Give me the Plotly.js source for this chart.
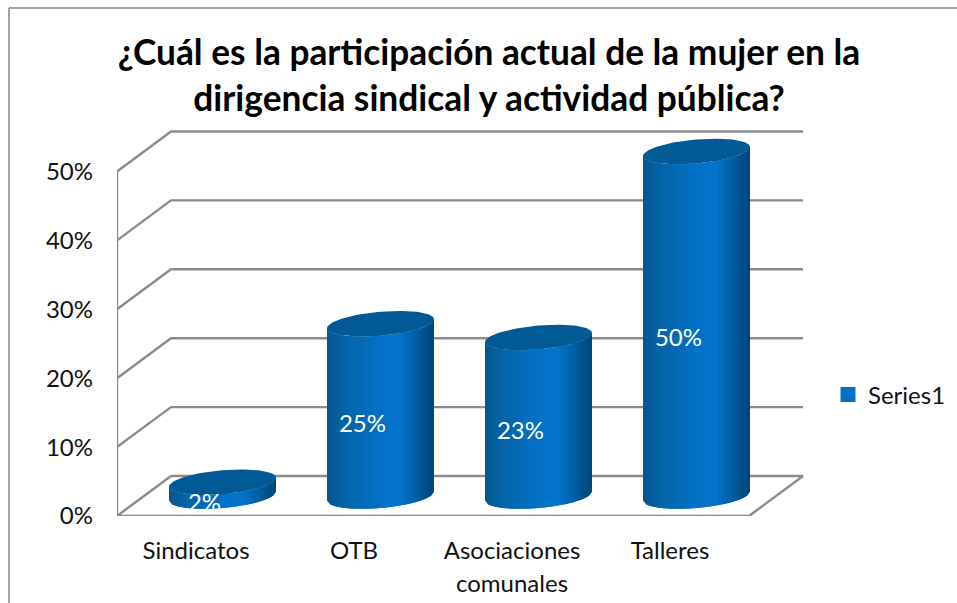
<!DOCTYPE html>
<html><head><meta charset="utf-8">
<script src="https://cdn.plot.ly/plotly-3.0.1.min.js"></script>
<style>html,body{margin:0;padding:0;background:#fff}#c{width:957px;height:603px}</style>
</head><body><div id="c"></div>
<script>
const categories = ['Sindicatos','OTB','Asociaciones','Talleres'];
const categoryExtraLine = [null,null,'comunales',null];
const values = [2,25,23,50];
const valueLabels = ['2%','25%','23%','50%'];
const seriesName = 'Series1';
const yTicks = [0,10,20,30,40,50];
const yTickLabels = ['0%','10%','20%','30%','40%','50%'];
const titleText = '¿Cuál es la participación actual de la mujer en la<br>dirigencia sindical y actividad pública?';

// drawing geometry
const W=957,H=603,L=117,R=803,T=130,B=516;
const pxX=158,pxY=6.89;
const dx=54/pxX,dy=40/pxY;
const xMin=-0.5,xMax=3.5+dx,yMax=(B-T)/pxY;
const xEnd=xMin+(W-L)/pxX;
const cylShift=26.5/pxX, cylBase=20/pxY;
const a=53.5/pxX, b=12/pxY, shear=4.5/pxY;
const grid='#8c8c8c', font='Lato, "Open Sans", sans-serif';

const traces=[];
// the series itself (hidden under the cylinders; gives the legend key)
traces.push({type:'scatter',mode:'markers',name:seriesName,x:categories.map((c,i)=>i+cylShift),y:values.map(v=>v/2+cylBase),
  marker:{color:'#0470c4',symbol:'square',size:15,line:{width:0}},showlegend:true,hoverinfo:'skip',cliponaxis:false});

function line(xs,ys,w){traces.push({type:'scatter',mode:'lines',x:xs,y:ys,line:{color:grid,width:w||2},showlegend:false,hoverinfo:'skip',cliponaxis:false});}
yTicks.forEach(v=>{
  if(v===0){
    line([xMin+dx,xMin,3.5,xMax,xMin+dx],[dy,0,0,dy,dy],2.4);
  } else {
    line([xMin,xMin+dx,xMax],[v,v+dy,v+dy],2.4);
  }
});
line([xMin,xMin],[0,yTicks[yTicks.length-1]],2.4);

function lerp(p,q,t){return p.map((c,i)=>Math.round(c+(q[i]-c)*t));}
const stops=[[0,[6,84,140]],[0.12,[4,98,162]],[0.5,[4,114,200]],[0.68,[4,116,204]],[0.85,[2,92,158]],[1,[0,68,116]]];
function shade(t){
  for(let i=1;i<stops.length;i++){ if(t<=stops[i][0]){
    const s=stops[i-1],e=stops[i];
    const c=lerp(s[1],e[1],(t-s[0])/(e[0]-s[0]));
    return 'rgb('+c.join(',')+')';}}
  return 'rgb('+stops[stops.length-1][1].join(',')+')';
}
const N=36;
values.forEach((v,i)=>{
  const cx=i+cylShift, top=v+cylBase;
  const low=u=>shear*u-b*Math.sqrt(Math.max(0,1-u*u));
  const upp=u=>shear*u+b*Math.sqrt(Math.max(0,1-u*u));
  for(let k=0;k<N;k++){
    const col=shade((k+.5)/N);
    const us=[k,k+1,k+2].map(j=>Math.min(1,-1+2*j/N));
    const xs=[],ys=[];
    us.forEach(u=>{xs.push(cx+a*u);ys.push(top+low(u));});
    us.slice().reverse().forEach(u=>{xs.push(cx+a*u);ys.push(cylBase+low(u));});
    xs.push(xs[0]);ys.push(ys[0]);
    traces.push({type:'scatter',mode:'lines',fill:'toself',fillcolor:col,line:{color:col,width:0},
      x:xs,y:ys,showlegend:false,hoverinfo:'skip',cliponaxis:false});
  }
  const ex=[],ey=[],M=60;
  for(let k=0;k<=M;k++){const u=-Math.cos(Math.PI*k/M);ex.push(cx+a*u);ey.push(top+upp(u));}
  for(let k=M;k>=0;k--){const u=-Math.cos(Math.PI*k/M);ex.push(cx+a*u);ey.push(top+low(u));}
  traces.push({type:'scatter',mode:'lines',fill:'toself',fillcolor:'#015a96',line:{color:'#015a96',width:0},
    x:ex,y:ey,showlegend:false,hoverinfo:'skip',cliponaxis:false});
});
// value labels
traces.push({type:'scatter',mode:'text',x:values.map((v,i)=>i+8.5/pxX),y:values.map(v=>v/2+cylBase-16/pxY),
  text:valueLabels,textposition:'middle center',textfont:{family:font,size:24,color:'#fff'},
  showlegend:false,hoverinfo:'skip',cliponaxis:false});

const annotations=[];
categoryExtraLine.forEach((t,i)=>{ if(t) annotations.push({xref:'x',yref:'y',x:i,y:0,yshift:-66,text:t,showarrow:false,
  yanchor:'middle',font:{family:font,size:24,color:'#111'}});});

const layout={width:W,height:H,paper_bgcolor:'#fff',plot_bgcolor:'rgba(0,0,0,0)',
  margin:{l:L,r:0,t:T,b:H-B,pad:0},
  title:{text:titleText,font:{family:font,size:35.3,weight:700,color:'#000'},xref:'container',yref:'container',x:489/W,xanchor:'center',y:1-65/H,yanchor:'middle'},
  xaxis:{range:[xMin,xEnd],tickmode:'array',tickvals:categories.map((c,i)=>i),ticktext:categories,showgrid:false,zeroline:false,showline:false,
    ticks:'',ticklabelstandoff:18,tickfont:{family:font,size:24,color:'#111'}},
  yaxis:{range:[0,yMax],tickmode:'array',tickvals:yTicks,ticktext:yTickLabels,showgrid:false,zeroline:false,showline:false,
    ticks:'',ticklabelstandoff:23,tickfont:{family:font,size:24,color:'#111'}},
  legend:{x:(828-L)/(W-L),xanchor:'left',y:(B-395)/(B-T),yanchor:'middle',font:{family:font,size:24,color:'#111'},bgcolor:'rgba(0,0,0,0)',itemwidth:30},
  shapes:[{type:'line',xref:'paper',yref:'paper',x0:(9-L)/(W-L),x1:(9-L)/(W-L),y0:(B-8)/(B-T),y1:(B-H)/(B-T),line:{color:'#868686',width:1.5}},
          {type:'line',xref:'paper',yref:'paper',x0:(9-L)/(W-L),x1:1,y0:(B-8)/(B-T),y1:(B-8)/(B-T),line:{color:'#868686',width:1.5}}],
  annotations:annotations
};
Plotly.newPlot('c',traces,layout,{displayModeBar:false,staticPlot:true});
</script></body></html>
